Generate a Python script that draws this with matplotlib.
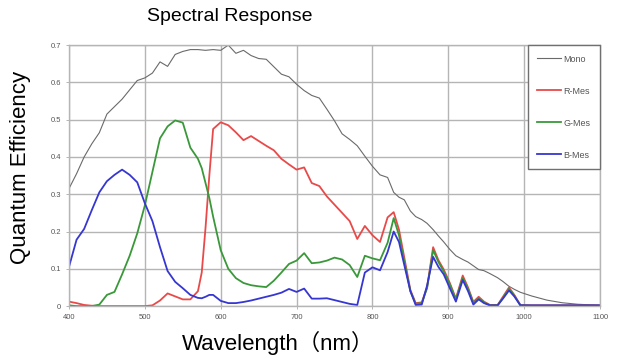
import matplotlib
matplotlib.use("Agg")
import matplotlib.pyplot as plt

plt.rcParams['font.family'] = ['Liberation Sans', 'Noto Sans CJK SC', 'DejaVu Sans']

# wavelength grid (nm) shared by all series
wavelength = [400, 410, 420, 430, 440, 450, 460, 470, 480, 490, 500, 510, 520, 530, 540,
              550, 560, 570, 575, 580, 585, 590, 600, 610, 620, 630, 640, 650, 660, 670,
              680, 690, 700, 710, 720, 730, 740, 750, 760, 770, 780, 790, 800, 810, 820,
              828, 835, 842, 850, 857, 865, 872, 880, 887, 894, 902, 910, 919, 926, 933,
              940, 947, 955, 965, 972, 980, 987, 995, 1010, 1030, 1050, 1070, 1100]

mono = [0.315, 0.355, 0.40, 0.435, 0.465, 0.515, 0.535, 0.555, 0.58, 0.605, 0.612, 0.625, 0.655, 0.643, 0.675,
        0.683, 0.688, 0.688, 0.687, 0.686, 0.687, 0.688, 0.686, 0.70, 0.678, 0.686, 0.672, 0.664, 0.662, 0.642,
        0.622, 0.615, 0.595, 0.578, 0.565, 0.558, 0.528, 0.497, 0.462, 0.447, 0.43, 0.402, 0.375, 0.352, 0.345,
        0.305, 0.292, 0.285, 0.255, 0.24, 0.232, 0.222, 0.205, 0.188, 0.172, 0.152, 0.135, 0.125, 0.118, 0.108,
        0.098, 0.095, 0.087, 0.076, 0.066, 0.053, 0.045, 0.037, 0.027, 0.016, 0.009, 0.005, 0.002]

r_mes = [0.012, 0.008, 0.003, 0.001, 0.0, 0.0, 0.0, 0.0, 0.0, 0.0, 0.0, 0.002, 0.015, 0.034, 0.026,
         0.018, 0.018, 0.04, 0.09, 0.21, 0.35, 0.475, 0.493, 0.485, 0.466, 0.445, 0.456, 0.443, 0.43, 0.418,
         0.395, 0.38, 0.366, 0.372, 0.33, 0.322, 0.294, 0.272, 0.25, 0.228, 0.18, 0.215, 0.19, 0.172, 0.238,
         0.252, 0.205, 0.13, 0.043, 0.008, 0.01, 0.05, 0.158, 0.123, 0.098, 0.062, 0.02, 0.082, 0.05, 0.011,
         0.025, 0.012, 0.003, 0.003, 0.025, 0.05, 0.03, 0.003, 0.002, 0.002, 0.002, 0.002, 0.002]

g_mes = [0.002, 0.0, 0.0, 0.0, 0.004, 0.03, 0.038, 0.085, 0.135, 0.195, 0.27, 0.36, 0.45, 0.482, 0.498,
         0.492, 0.425, 0.395, 0.37, 0.33, 0.29, 0.24, 0.15, 0.10, 0.075, 0.062, 0.056, 0.053, 0.051, 0.068,
         0.09, 0.113, 0.122, 0.142, 0.115, 0.117, 0.122, 0.13, 0.125, 0.11, 0.078, 0.135, 0.128, 0.123, 0.17,
         0.236, 0.19, 0.12, 0.04, 0.006, 0.008, 0.048, 0.15, 0.118, 0.093, 0.058, 0.018, 0.076, 0.046, 0.009,
         0.021, 0.01, 0.002, 0.002, 0.022, 0.046, 0.028, 0.002, 0.001, 0.001, 0.001, 0.001, 0.001]

b_mes = [0.105, 0.178, 0.207, 0.257, 0.305, 0.335, 0.352, 0.366, 0.352, 0.332, 0.276, 0.228, 0.158, 0.094, 0.065,
         0.048, 0.03, 0.022, 0.021, 0.025, 0.03, 0.03, 0.014, 0.008, 0.008, 0.011, 0.015, 0.02, 0.025, 0.03,
         0.036, 0.046, 0.038, 0.047, 0.02, 0.02, 0.021, 0.016, 0.011, 0.006, 0.003, 0.09, 0.104, 0.096, 0.145,
         0.20, 0.172, 0.11, 0.04, 0.003, 0.004, 0.055, 0.132, 0.105, 0.085, 0.048, 0.012, 0.07, 0.04, 0.004,
         0.018, 0.008, 0.002, 0.002, 0.02, 0.042, 0.026, 0.002, 0.002, 0.002, 0.002, 0.002, 0.002]

x_ticks = [400, 500, 600, 700, 800, 900, 1000, 1100]
y_ticks = [0, 0.1, 0.2, 0.3, 0.4, 0.5, 0.6, 0.7]
y_tick_labels = ["0", "0.1", "0.2", "0.3", "0.4", "0.5", "0.6", "0.7"]

fig = plt.figure(figsize=(6.27, 3.58), dpi=100)
ax = fig.add_axes([0.110, 0.145, 0.847, 0.729])

ax.plot(wavelength, mono, color="#6a6a6a", lw=0.8, label="Mono")
ax.plot(wavelength, r_mes, color="#e84a4a", lw=1.3, label="R-Mes")
ax.plot(wavelength, g_mes, color="#3a983a", lw=1.3, label="G-Mes")
ax.plot(wavelength, b_mes, color="#3636d2", lw=1.3, label="B-Mes")

ax.set_xlim(400, 1100)
ax.set_ylim(0, 0.7)
ax.set_xticks(x_ticks)
ax.set_yticks(y_ticks)
ax.set_yticklabels(y_tick_labels)
ax.tick_params(labelsize=5.5, colors="#555555", length=2, width=0.6, color="#aaaaaa")
ax.grid(True, color="#b5b5b5", lw=1.0)
ax.set_axisbelow(True)
for sp in ax.spines.values():
    sp.set_color("#b5b5b5")
    sp.set_linewidth(1.0)

# legend box with widely spaced entries
handles, labels = ax.get_legend_handles_labels()
leg = ax.legend(handles, labels, loc="upper right", borderaxespad=0, fontsize=6.5,
                labelspacing=2.55, handlelength=2.6, handletextpad=0.3,
                borderpad=1.05, fancybox=False, framealpha=1)
leg.get_frame().set_edgecolor("#707070")
leg.get_frame().set_linewidth(1.0)
for t in leg.get_texts():
    t.set_color("#555555")

fig.text(0.367, 0.953, "Spectral Response", ha="center", va="center", fontsize=14)
fig.text(0.032, 0.531, "Quantum Efficiency", ha="center", va="center", rotation=90, fontsize=16)
fig.text(0.443, 0.042, "Wavelength（nm）", ha="center", va="center", fontsize=16)

fig.savefig("out.png", dpi=100)
